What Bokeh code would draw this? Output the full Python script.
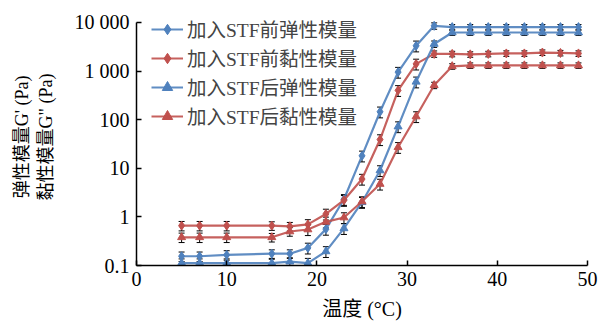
from bokeh.plotting import figure
from bokeh.models import (ColumnDataSource, Whisker, TeeHead, Legend, LegendItem,
                          FixedTicker, Range1d)
from bokeh.embed import file_html
from bokeh.resources import INLINE

# ---- data ----
temps = [5, 7, 10, 15, 17, 19, 21, 23, 25, 27, 29, 31, 33, 35, 37, 39, 41, 43, 45, 47, 49]
g1_before = [0.155, 0.155, 0.165, 0.175, 0.175, 0.23, 0.56, 2.3, 18, 145, 950, 3300, 8500,
             8000, 8000, 8000, 8000, 8000, 8000, 8000, 8000]
g2_before = [0.66, 0.66, 0.66, 0.66, 0.64, 0.70, 1.15, 2.2, 6.0, 39, 400, 1400, 2250,
             2250, 2200, 2250, 2300, 2300, 2400, 2350, 2300]
g1_after = [0.112, 0.112, 0.112, 0.112, 0.12, 0.112, 0.195, 0.58, 2.0, 9.0, 72, 600, 3600,
            6200, 6200, 6200, 6200, 6200, 6200, 6200, 6200]
g2_after = [0.38, 0.38, 0.38, 0.38, 0.50, 0.55, 0.79, 0.97, 2.07, 4.75, 27, 116, 510,
            1250, 1300, 1300, 1300, 1300, 1300, 1300, 1300]
rel_err = [0.22, 0.22, 0.22, 0.2, 0.2, 0.25, 0.25, 0.25, 0.25, 0.25, 0.25, 0.25, 0.15,
           0.13, 0.13, 0.13, 0.13, 0.13, 0.13, 0.13, 0.13]

names = ["加入STF前弹性模量", "加入STF前黏性模量", "加入STF后弹性模量", "加入STF后黏性模量"]
series = [g1_before, g2_before, g1_after, g2_after]
y_ticks = [0.1, 1, 10, 100, 1000, 10000]
y_tick_labels = ["0.1", "1", "10", "100", "1 000", "10 000"]
x_ticks = [0, 10, 20, 30, 40, 50]

BLUE = "#4f81bd"
RED = "#c0504d"
colors = [BLUE, RED, BLUE, RED]
markers = ["diamond", "diamond", "triangle", "triangle"]
msizes = [9, 9, 8, 8]

FONT = "'Liberation Serif', 'Noto Sans CJK SC', serif"

# layout: frame extends 14px above the 10 000 tick so the legend sits inside it
H, TOP, BOTTOM = 322, 8, 55
frame_h = H - TOP - BOTTOM
axis_px = frame_h - 14
decades = 5.0
y_end = 10 ** (-1 + decades * frame_h / axis_px)

p = figure(width=598, height=H, y_axis_type="log", output_backend="svg",
           toolbar_location=None, x_range=Range1d(0, 50), y_range=Range1d(0.1, y_end),
           min_border_left=136, min_border_right=11, min_border_top=TOP,
           min_border_bottom=BOTTOM)
p.outline_line_color = None
p.xgrid.visible = False
p.ygrid.visible = False

items = []
for name, vals, c, m, ms in zip(names, series, colors, markers, msizes):
    src = ColumnDataSource(dict(
        x=temps, y=vals,
        lo=[v * (1 - e) for v, e in zip(vals, rel_err)],
        hi=[v * (1 + e) for v, e in zip(vals, rel_err)],
    ))
    ln = p.line("x", "y", source=src, line_color=c, line_width=2.2, line_alpha=0.9)
    wk = Whisker(base="x", upper="hi", lower="lo", source=src, line_color="black",
                 line_width=1,
                 upper_head=TeeHead(size=6, line_color="black", line_width=1),
                 lower_head=TeeHead(size=6, line_color="black", line_width=1))
    p.add_layout(wk)
    sc = p.scatter("x", "y", source=src, marker=m, size=ms, fill_color=c, line_color=c)
    items.append(LegendItem(label=name, renderers=[ln, sc]))

legend = Legend(items=items, location=(15, 135), padding=0, margin=0, spacing=0,
                glyph_width=32, glyph_height=26, label_height=26, label_standoff=4,
                label_text_font=FONT, label_text_font_size="19.5px",
                background_fill_alpha=0, border_line_color=None)
p.add_layout(legend)

# axes
p.xaxis.ticker = FixedTicker(ticks=x_ticks)
p.yaxis.ticker = FixedTicker(ticks=y_ticks)
p.yaxis.bounds = (0.1, 10000)
p.yaxis.major_label_overrides = {t: l for t, l in zip(y_ticks, y_tick_labels)}
for ax in (p.xaxis[0], p.yaxis[0]):
    ax.axis_line_color = "black"
    ax.axis_line_width = 1.5
    ax.major_tick_line_color = "black"
    ax.major_tick_line_width = 1.5
    ax.major_tick_in = 5
    ax.major_tick_out = 0
    ax.minor_tick_line_color = None
    ax.major_label_text_font = FONT
    ax.major_label_text_font_size = "20px"
    ax.major_label_text_color = "black"
    ax.axis_label_text_font = FONT
    ax.axis_label_text_font_style = "normal"
    ax.axis_label_text_color = "black"

p.xaxis.major_label_standoff = 6
p.yaxis.major_label_standoff = 7
p.xaxis.axis_label = "温度 (°C)"
p.xaxis.axis_label_text_font_size = "20px"
p.xaxis.axis_label_standoff = 9
p.yaxis.axis_label = "弹性模量G' (Pa)\n黏性模量G\" (Pa)"
p.yaxis.axis_label_text_font_size = "18px"
p.yaxis.axis_label_standoff = 16

open("out.html", "w").write(file_html(p, INLINE))
